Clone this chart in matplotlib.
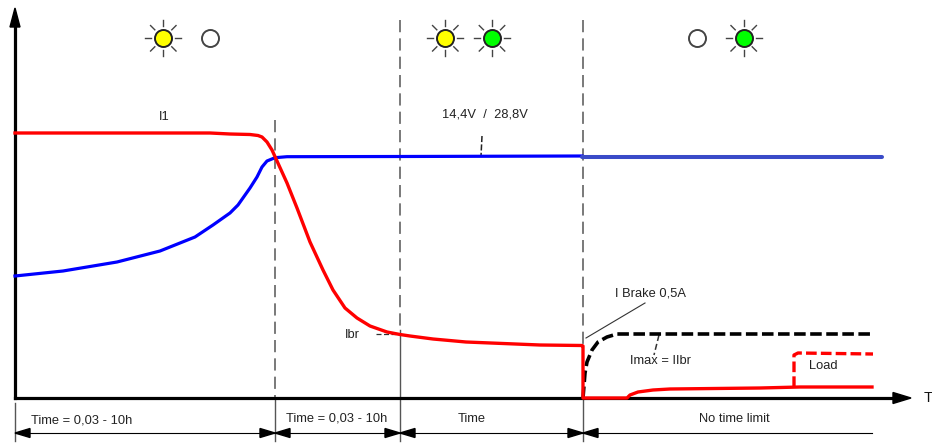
import matplotlib
matplotlib.use("Agg")
import numpy as np
import matplotlib.pyplot as plt

plt.rcParams['font.family'] = ['Liberation Sans', 'DejaVu Sans']

# all values, in reference pixels
blue_x = [15, 63, 117, 160, 195, 213, 230, 238, 250, 257, 262, 267, 275, 287, 400, 582]
blue_y = [276, 271, 262, 251, 237, 225, 213, 205, 188, 177, 167, 161, 157.7, 156.7, 156.5, 156]
blue2_x = [582, 882]
blue2_y = [157, 157]

red_x = [15, 210, 230, 250, 258, 262, 267, 272, 277, 287, 297, 310, 323, 333, 345, 357, 370, 387, 400, 410,
         433, 466, 540, 582, 583, 583, 627, 630, 638, 653, 670, 760, 800, 872]
red_y = [133, 133, 134, 134.5, 135.5, 137, 142, 150, 161, 183, 208, 242, 270, 290, 308, 318, 326, 332, 334.5, 336,
         339, 342, 345, 345.5, 346, 398, 398, 395, 392, 390, 389, 388, 387, 387]

brake_x = [583, 585, 587, 592, 598, 607, 617, 871]
brake_y = [398, 373, 362, 350, 342, 337, 334, 334]

load_x = [794, 794, 798, 873]
load_y = [387, 355, 353, 354]

# sections: x of the boundaries
dash_x = [275, 400, 583]
dash_top = [120, 20, 20]
dash_bottom = [398, 330, 398]
span_left = [15, 275, 400, 583]
span_right = [275, 400, 583, 872]

led_x = [163.3, 209.7, 445.3, 492, 697.3, 743.7]
led_color = ['#ffff00', 'white', '#ffff00', '#00ff00', 'white', '#00ff00']
led_on = [True, False, True, True, False, True]

fig = plt.figure(figsize=(9.32, 4.44), dpi=100)
ax = fig.add_axes([0, 0, 1, 1])
ax.set_xlim(0, 932)
ax.set_ylim(444, 0)
ax.axis('off')

# section lines
for x, top, bottom in zip(dash_x, dash_top, dash_bottom):
    ax.plot([x, x], [top, bottom], color='#555555', lw=1.1, dashes=(8, 4), zorder=1)
    ax.plot([x, x], [bottom, 441], color='#555555', lw=1.0, zorder=1)
ax.plot([15, 15], [403, 441], color='#555555', lw=1.0, zorder=1)

# curves
ax.plot(blue_x, blue_y, color='#0000ff', lw=2.3, solid_joinstyle='round', zorder=3)
ax.plot(blue2_x, blue2_y, color='#3a4bc8', lw=2.9, solid_capstyle='round', zorder=3)

# axes
ax.plot([15, 15], [398, 25], color='black', lw=2.3, zorder=2)
ax.plot([15, 895], [398, 398], color='black', lw=2.3, zorder=2)
ax.fill([10, 20, 15], [27, 27, 8], color='black', zorder=2)
ax.fill([893, 893, 911], [392.5, 403.5, 398], color='black', zorder=2)

ax.plot(brake_x, brake_y, color='black', lw=2.6, dashes=(3.2, 1.25), zorder=3)
ax.plot(load_x, load_y, color='#ff0000', lw=2.4, dashes=(3.2, 1.25), zorder=3)
ax.plot(red_x, red_y, color='#ff0000', lw=2.4, solid_joinstyle='round', zorder=4)

# leaders
ax.plot([376, 400], [334, 334], color='#333333', lw=0.9, dashes=(4, 2), zorder=2)
ax.plot([586, 645], [338, 303], color='#333333', lw=0.8, zorder=2)
ax.plot([659, 654], [335, 355], color='#333333', lw=1.1, dashes=(4, 2), zorder=2)
ax.plot([482, 481], [136, 156], color='#222222', lw=1.1, dashes=(4, 1.5), zorder=2)

# span arrows below the axis
for i, (left, right) in enumerate(zip(span_left, span_right)):
    ax.plot([left, right], [433, 433], color='black', lw=0.8, zorder=2)
    ax.fill([left, left + 15, left + 15], [433, 428.5, 437.5], color='black', zorder=3)
    if i < 3:
        ax.fill([right, right - 15, right - 15], [433, 428.5, 437.5], color='black', zorder=3)

# LEDs
for x, c, on in zip(led_x, led_color, led_on):
    if on:
        for a in np.arange(0, 360, 45):
            dx, dy = np.cos(np.radians(a)), np.sin(np.radians(a))
            ax.plot([x + 12 * dx, x + 18 * dx], [38.3 + 12 * dy, 38.3 + 18 * dy],
                    color='#444444', lw=1.0, zorder=3)
    ax.scatter([x], [38.3], s=150, facecolor=c, edgecolor='#222222' if on else '#444444',
               linewidth=1.4, zorder=4)

# text
fs = 9.3
labels = [
    (164, 117, "I1"),
    (485, 114, "14,4V  /  28,8V"),
    (352, 335, "Ibr"),
    (650.5, 293, "I Brake 0,5A"),
    (661, 361, "Imax = IIbr"),
    (823, 366, "Load"),
    (82, 420, "Time = 0,03 - 10h"),
    (337, 418, "Time = 0,03 - 10h"),
    (472, 419, "Time"),
    (734, 419, "No time limit"),
]
for x, y, s in labels:
    ax.text(x, y, s, ha='center', va='center', fontsize=fs, color='#222222')
ax.text(928, 398, "T", ha='center', va='center', fontsize=10.5, color='#111111')

fig.savefig("out.png", dpi=100)
